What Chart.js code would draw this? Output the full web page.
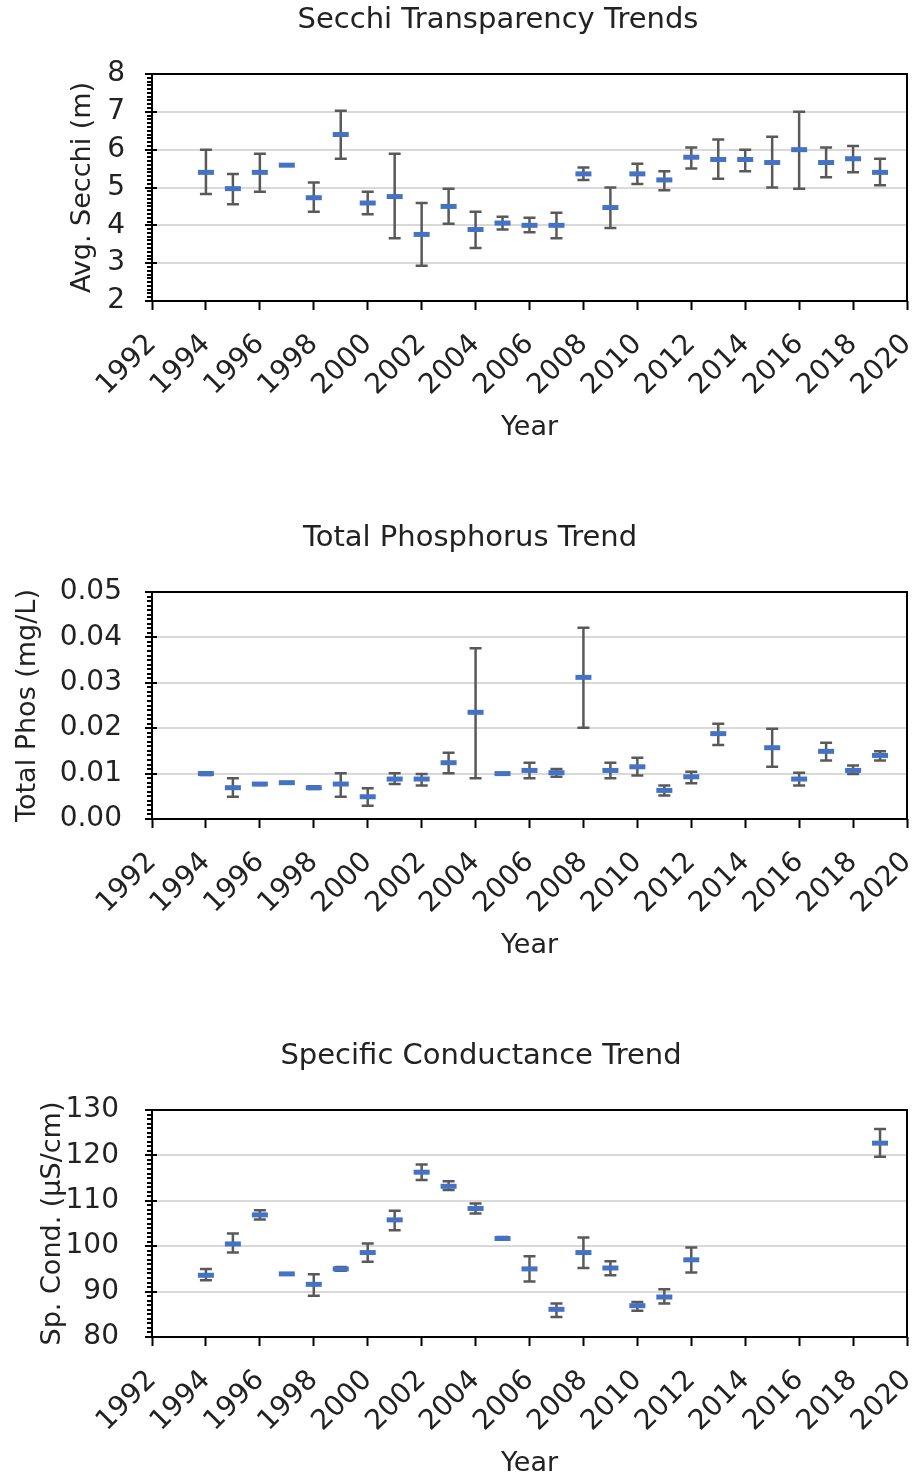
<!DOCTYPE html>
<html lang="en">
<head>
    <meta charset="UTF-8">
    <title>Lake Water Quality Trends</title>
    <script src="https://cdn.jsdelivr.net/npm/chart.js"></script>
    <style>
        body { margin: 0; overflow: hidden; background: #fff; }
        .panel { position: absolute; left: 0; width: 920px; height: 518px; }
    </style>
</head>
<body>
    <div class="panel" style="top: 0px;"><canvas id="secchiChart" width="920" height="518"></canvas></div>
    <div class="panel" style="top: 518px;"><canvas id="phosChart" width="920" height="518"></canvas></div>
    <div class="panel" style="top: 1036px;"><canvas id="condChart" width="920" height="518"></canvas></div>
    <script>
        const years = [1994, 1995, 1996, 1997, 1998, 1999, 2000, 2001, 2002, 2003, 2004, 2005, 2006,
                       2007, 2008, 2009, 2010, 2011, 2012, 2013, 2014, 2015, 2016, 2017, 2018, 2019];
        const yearMin = 1992, yearMax = 2020, yearStep = 2;

        // Secchi depth (m): mean with low / high of the error bar
        const secchiMean = [5.40, 4.97, 5.40, 5.59, 4.73, 6.40, 4.59, 4.76, 3.76, 4.50, 3.89, 4.06, 4.00,
                            4.00, 5.36, 4.47, 5.36, 5.20, 5.80, 5.74, 5.74, 5.66, 6.00, 5.66, 5.76, 5.40];
        const secchiLow  = [4.83, 4.56, 4.89, 5.59, 4.36, 5.76, 4.29, 3.66, 2.93, 4.04, 3.40, 3.89, 3.82,
                            3.66, 5.20, 3.93, 5.09, 4.93, 5.50, 5.23, 5.43, 5.00, 4.97, 5.27, 5.40, 5.06];
        const secchiHigh = [6.00, 5.36, 5.89, 5.59, 5.13, 7.03, 4.89, 5.89, 4.59, 4.97, 4.36, 4.23, 4.20,
                            4.33, 5.53, 5.00, 5.63, 5.43, 6.06, 6.27, 6.00, 6.34, 7.00, 6.06, 6.10, 5.76];

        // Total phosphorus (mg/L)
        const phosMean = [0.0100, 0.0069, 0.0077, 0.0080, 0.0069, 0.0077, 0.0049, 0.0088, 0.0088, 0.0124, 0.0235, 0.0100, 0.0107,
                          0.0102, 0.0312, 0.0107, 0.0115, 0.0063, 0.0093, 0.0188, null, 0.0157, 0.0088, 0.0149, 0.0107, 0.0140];
        const phosLow  = [0.0097, 0.0049, 0.0075, 0.0080, 0.0066, 0.0049, 0.0029, 0.0077, 0.0074, 0.0101, 0.0090, 0.0099, 0.0090,
                          0.0093, 0.0201, 0.0090, 0.0096, 0.0052, 0.0079, 0.0163, null, 0.0115, 0.0074, 0.0129, 0.0099, 0.0129];
        const phosHigh = [0.0103, 0.0090, 0.0079, 0.0080, 0.0072, 0.0101, 0.0068, 0.0101, 0.0099, 0.0146, 0.0376, 0.0101, 0.0124,
                          0.0110, 0.0421, 0.0124, 0.0135, 0.0074, 0.0104, 0.0210, null, 0.0199, 0.0102, 0.0168, 0.0118, 0.0149];

        // Specific conductance (uS/cm), no samples 2013-2018
        const condMean = [93.6, 100.5, 106.9, 93.9, 91.6, 95.0, 98.6, 105.8, 116.3, 113.2, 108.3, 101.7, 95.0,
                          86.1, 98.6, 95.2, 86.9, 88.8, 97.0, null, null, null, null, null, null, 122.7];
        const condLow  = [92.5, 98.6, 105.9, 93.9, 89.1, 94.6, 96.6, 103.5, 114.6, 112.4, 107.2, 101.4, 92.2,
                          84.4, 95.2, 93.6, 85.8, 87.4, 94.2, null, null, null, null, null, null, 119.7];
        const condHigh = [95.0, 102.8, 107.9, 93.9, 93.8, 95.4, 100.6, 107.8, 118.0, 114.3, 109.4, 102.0, 97.8,
                          87.4, 101.9, 96.7, 87.7, 90.5, 99.7, null, null, null, null, null, null, 125.8];

        const FONT = '"DejaVu Sans", "Open Sans", sans-serif';
        const TEXT = '#222';

        // whiskers drawn under the mean markers
        const errorBars = {
            id: 'errorBars',
            beforeDatasetsDraw(chart, args, opts) {
                const {ctx, scales: {x, y}} = chart;
                ctx.save();
                ctx.strokeStyle = '#595959';
                ctx.lineWidth = 2.5;
                years.forEach((yr, i) => {
                    if (opts.low[i] == null) return;
                    const px = x.getPixelForValue(yr);
                    const y1 = y.getPixelForValue(opts.low[i]);
                    const y2 = y.getPixelForValue(opts.high[i]);
                    ctx.beginPath();
                    ctx.moveTo(px, y1); ctx.lineTo(px, y2);
                    ctx.moveTo(px - 6, y1); ctx.lineTo(px + 6, y1);
                    ctx.moveTo(px - 6, y2); ctx.lineTo(px + 6, y2);
                    ctx.stroke();
                });
                ctx.restore();
            }
        };

        // black box round the plot, with major and minor ticks on the y axis
        const axisFrame = {
            id: 'axisFrame',
            afterDraw(chart, args, opts) {
                const {ctx, chartArea: a, scales: {y}} = chart;
                ctx.save();
                ctx.strokeStyle = '#000';
                ctx.lineWidth = 2;
                ctx.strokeRect(a.left, a.top, a.right - a.left, a.bottom - a.top);
                ctx.beginPath();
                const n = Math.round((y.max - y.min) / opts.minorStep);
                for (let k = 0; k <= n; k++) {
                    const py = Math.round(y.getPixelForValue(y.min + k * opts.minorStep));
                    ctx.moveTo(a.left - 5, py); ctx.lineTo(a.left, py);
                }
                y.ticks.forEach(t => {
                    const py = Math.round(y.getPixelForValue(t.value));
                    ctx.moveTo(a.left - 7, py); ctx.lineTo(a.left + 5, py);
                });
                ctx.stroke();
                ctx.restore();
            }
        };

        const headline = {
            id: 'headline',
            afterDraw(chart, args, opts) {
                const ctx = chart.ctx;
                ctx.save();
                ctx.font = '29px ' + FONT;
                ctx.fillStyle = TEXT;
                ctx.textAlign = 'center';
                ctx.textBaseline = 'middle';
                ctx.fillText(opts.text, opts.x, opts.y);
                ctx.restore();
            }
        };

        function makeChart(id, cfg) {
            const points = years.map((yr, i) => ({x: yr, y: cfg.mean[i]}));
            return new Chart(document.getElementById(id), {
                type: 'scatter',
                data: {
                    datasets: [{
                        data: points,
                        pointStyle: 'line',
                        pointRadius: 8,
                        pointHoverRadius: 8,
                        pointBorderWidth: 5,
                        borderColor: '#4472C4',
                        backgroundColor: '#4472C4'
                    }]
                },
                plugins: [errorBars, axisFrame, headline],
                options: {
                    responsive: false,
                    animation: false,
                    layout: { padding: { top: 74, right: 8, bottom: 74, left: 0 } },
                    scales: {
                        x: {
                            type: 'linear',
                            min: yearMin,
                            max: yearMax,
                            afterFit(scale) {
                                scale.height = 143;
                                scale.paddingLeft = 0;
                                scale.paddingRight = 0;
                            },
                            border: { display: false },
                            grid: { drawOnChartArea: false, drawTicks: true, tickLength: 9, tickColor: '#000', tickWidth: 2 },
                            ticks: {
                                stepSize: yearStep,
                                autoSkip: false,
                                minRotation: 45,
                                maxRotation: 45,
                                padding: 18,
                                color: TEXT,
                                font: { family: FONT, size: 28 },
                                callback: v => String(v)
                            },
                            title: {
                                display: true,
                                text: 'Year',
                                color: TEXT,
                                padding: 0,
                                font: { family: FONT, size: 27 }
                            }
                        },
                        y: {
                            min: cfg.yMin,
                            max: cfg.yMax,
                            afterFit(scale) { scale.width = 152; },
                            border: { display: false },
                            grid: { color: '#d9d9d9', lineWidth: 2, drawTicks: false },
                            ticks: {
                                stepSize: cfg.yStep,
                                padding: cfg.tickPad,
                                color: TEXT,
                                font: { family: FONT, size: 28 },
                                callback: v => v.toFixed(cfg.decimals)
                            },
                            title: {
                                display: true,
                                text: cfg.yTitle,
                                color: TEXT,
                                padding: { top: cfg.titlePad, bottom: 0 },
                                font: { family: FONT, size: 27 }
                            }
                        }
                    },
                    plugins: {
                        legend: { display: false },
                        tooltip: { enabled: false },
                        errorBars: { low: cfg.low, high: cfg.high },
                        axisFrame: { minorStep: cfg.yStep / 10 },
                        headline: { text: cfg.title, x: cfg.titleX, y: 20 }
                    }
                }
            });
        }

        makeChart('secchiChart', {
            title: 'Secchi Transparency Trends', titleX: 498,
            yTitle: 'Avg. Secchi (m)', titlePad: 67,
            mean: secchiMean, low: secchiLow, high: secchiHigh,
            yMin: 2, yMax: 8, yStep: 1, decimals: 0, tickPad: 27
        });

        makeChart('phosChart', {
            title: 'Total Phosphorus Trend', titleX: 470,
            yTitle: 'Total Phos (mg/L)', titlePad: 12,
            mean: phosMean, low: phosLow, high: phosHigh,
            yMin: 0, yMax: 0.05, yStep: 0.01, decimals: 2, tickPad: 30
        });

        makeChart('condChart', {
            title: 'Specific Conductance Trend', titleX: 481,
            yTitle: 'Sp. Cond. (\u00b5S/cm)', titlePad: 37,
            mean: condMean, low: condLow, high: condHigh,
            yMin: 80, yMax: 130, yStep: 10, decimals: 0, tickPad: 33
        });
    </script>
</body>
</html>
